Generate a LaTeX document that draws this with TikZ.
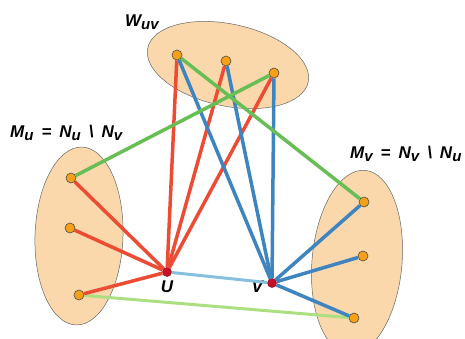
\documentclass[tikz,border=0pt]{standalone}
\usepackage{fontspec}
\setmainfont{Liberation Sans}
\usepackage{xcolor}
\usepackage{tikz}
\usetikzlibrary{arrows.meta, positioning, shapes.geometric}

\definecolor{setfill}{RGB}{250,216,172}
\definecolor{vorange}{RGB}{244,160,24}
\definecolor{vred}{RGB}{200,16,40}
\definecolor{ered}{RGB}{236,76,52}
\definecolor{eblue}{RGB}{62,132,190}
\definecolor{egreen}{RGB}{102,190,84}
\definecolor{elgreen}{RGB}{172,222,130}
\definecolor{elblue}{RGB}{134,192,222}

\newcommand{\lowsub}[1]{\raisebox{-2.5pt}{\fontsize{15}{15}\selectfont #1}}
\newcommand{\gap}{\hspace{8pt}}

\begin{document}
\begin{tikzpicture}[x=1pt, y=-1pt,
  setblob/.style={ellipse, draw=black!60, line width=0.5pt, fill=setfill, inner sep=0pt},
  vtx/.style={circle, draw=black!70, line width=0.6pt, fill=vorange, inner sep=0pt, minimum size=10pt},
  uv/.style={circle, draw=vred!70!black, line width=0.5pt, fill=vred, inner sep=0pt, minimum size=9pt},
  lbl/.style={font=\fontsize{17}{17}\selectfont\bfseries\itshape, inner sep=0pt},
  redge/.style={ered, line width=3.5pt},
  bedge/.style={eblue, line width=3.5pt},
  gedge/.style={egreen, line width=3.5pt}]
\useasboundingbox (0,0) rectangle (465,338);

\node[setblob, minimum width=164pt, minimum height=82pt, rotate=-12] (Wset) at (228,65) {};
\node[setblob, minimum width=88pt, minimum height=178pt, rotate=-2] (Mu) at (79,236) {};
\node[setblob, minimum width=90pt, minimum height=184pt, rotate=-5] (Mv) at (357,262) {};

\node[lbl, anchor=west] (wlab) at (125,22) {W\lowsub{uv}};
\node[lbl, anchor=west] (mulab) at (10,133) {M\lowsub{u}\gap=\gap N\lowsub{u}\gap\textbackslash\gap N\lowsub{v}};
\node[lbl, anchor=west] (mvlab) at (350,154) {M\lowsub{v}\gap=\gap N\lowsub{v}\gap\textbackslash\gap N\lowsub{u}};

\node[vtx] (w1) at (177,55) {};
\node[vtx] (w2) at (226,61) {};
\node[vtx] (w3) at (274,73) {};
\node[vtx] (l1) at (71,178) {};
\node[vtx] (l2) at (70,228) {};
\node[vtx] (l3) at (79,295) {};
\node[vtx] (r1) at (364,202) {};
\node[vtx] (r2) at (363,256) {};
\node[vtx] (r3) at (354,318) {};
\node[uv] (u) at (167,272) {};
\node[uv] (v) at (272,283) {};

\node[lbl, below=4pt of u] (ulab) {U};
\node[lbl, left=4pt of v, yshift=-4pt] (vlab) {V};

\draw[elblue, line width=3pt] (u) -- (v);
\draw[elgreen, line width=3pt] (l3) -- (r3);
\foreach \n in {w1,w2,w3,l1,l2,l3} \draw[redge] (u) -- (\n);
\foreach \n in {w1,w2,w3,r1,r2,r3} \draw[bedge] (v) -- (\n);
\draw[gedge] (w1) -- (r1);
\draw[gedge] (w3) -- (l1);
\end{tikzpicture}
\end{document}
